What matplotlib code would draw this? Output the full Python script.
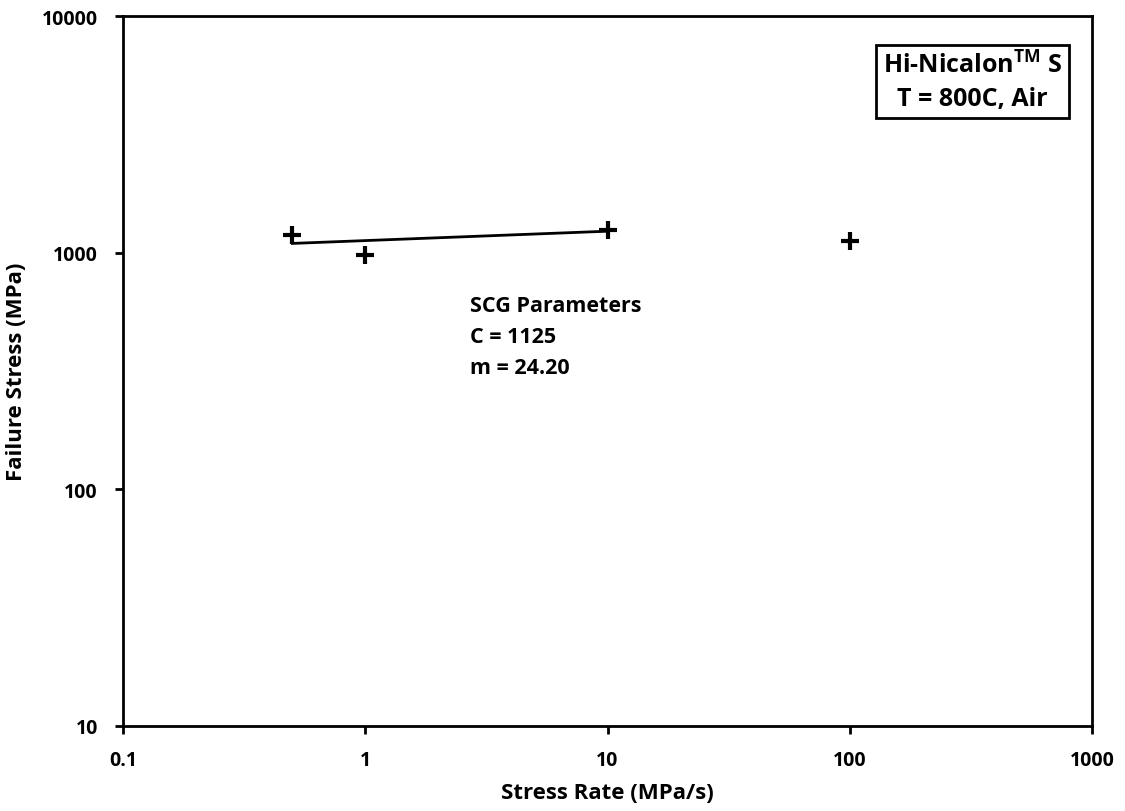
import matplotlib
matplotlib.use("Agg")
import matplotlib.pyplot as plt
import numpy as np

plt.rcParams['font.family'] = ['Open Sans', 'DejaVu Sans']
plt.rcParams['font.weight'] = 'bold'
plt.rcParams['mathtext.fontset'] = 'custom'
plt.rcParams['mathtext.rm'] = 'Open Sans:bold'
plt.rcParams['mathtext.it'] = 'Open Sans:bold'
plt.rcParams['mathtext.bf'] = 'Open Sans:bold'

# stress rate (MPa/s) and failure stress (MPa)
stress_rate = [0.5, 1.0, 10.0, 100.0]
failure_stress = [1186, 977, 1246, 1119]

# SCG fit parameters
C = 1125
m = 24.20
fit_rate = [0.5, 10.0]

x_ticks = [0.1, 1, 10, 100, 1000]
x_tick_labels = ['0.1', '1', '10', '100', '1000']
y_ticks = [10, 100, 1000, 10000]
y_tick_labels = ['10', '100', '1000', '10000']

fig = plt.figure(figsize=(11.25, 8.12), dpi=100)
ax = fig.add_axes([0.1093, 0.1047, 0.8614, 0.8743])

ax.set_xscale('log')
ax.set_yscale('log')
ax.set_xlim(0.1, 1000)
ax.set_ylim(10, 10000)

# fitted line: stress = C * rate^(1/(m+1))
fit_x = np.array(fit_rate)
fit_y = C * fit_x ** (1.0 / (m + 1.0))
ax.plot(fit_x, fit_y, color='black', lw=2)
ax.plot(stress_rate, failure_stress, linestyle='none', marker='+',
        color='black', markersize=13, markeredgewidth=3)

ax.set_xticks(x_ticks)
ax.set_xticklabels(x_tick_labels)
ax.set_yticks(y_ticks)
ax.set_yticklabels(y_tick_labels)
ax.minorticks_off()
ax.tick_params(direction='out', length=6, width=2, labelsize=14)
ax.tick_params(axis='x', pad=11)
ax.tick_params(axis='y', pad=12)
for s in ax.spines.values():
    s.set_linewidth(2)

ax.set_xlabel('Stress Rate (MPa/s)', fontsize=16, fontweight='bold', labelpad=9)
ax.set_ylabel('Failure Stress (MPa)', fontsize=16, fontweight='bold', labelpad=11)

ax.text(0.358, 0.607, 'SCG Parameters\nC = 1125\nm = 24.20', transform=ax.transAxes,
        fontsize=15.5, fontweight='bold', va='top', ha='left', linespacing=1.62)

ax.text(0.969, 0.908, 'Hi-Nicalon$^{\\mathrm{TM}}$ S\nT = 800C, Air', transform=ax.transAxes,
        fontsize=18, fontweight='bold', ha='right', va='center', multialignment='center',
        linespacing=1.4,
        bbox=dict(boxstyle='square,pad=0.27', facecolor='white', edgecolor='black', lw=2))

fig.savefig('out.png', dpi=100)
